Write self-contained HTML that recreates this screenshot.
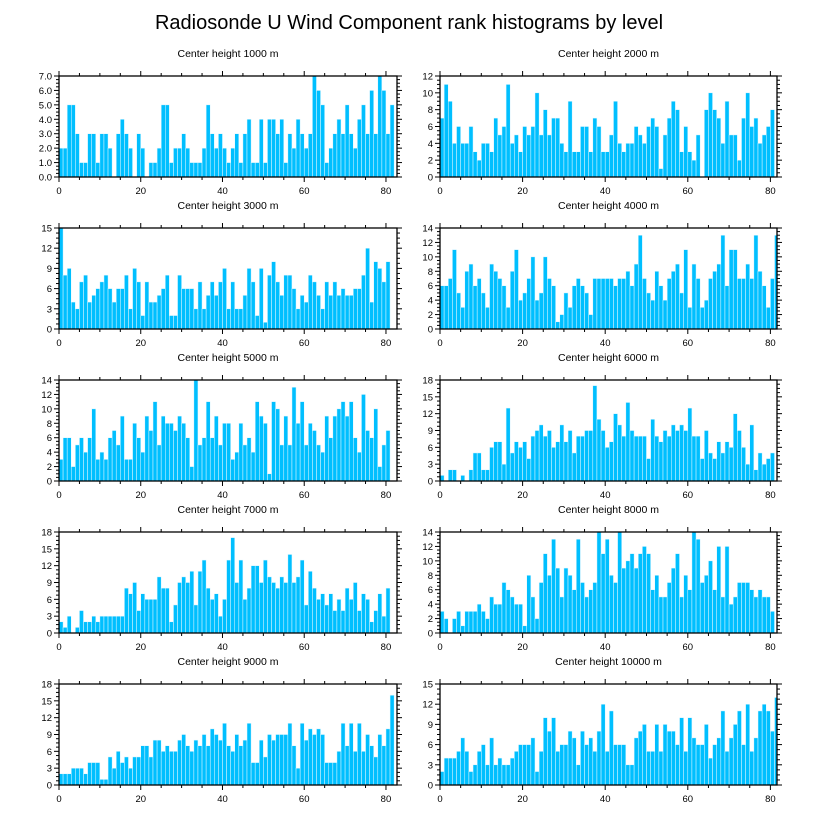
<!DOCTYPE html>
<html><head><meta charset="utf-8"><style>
body{margin:0;background:#fff;}
svg text{font-family:"Liberation Sans",sans-serif;fill:#000;}
</style></head><body>
<svg id="chart" width="818" height="824" xmlns="http://www.w3.org/2000/svg">
<text x="409" y="29" font-size="20" text-anchor="middle">Radiosonde U Wind Component rank histograms by level</text>
</svg>
<script>
const titles = ["Center height 1000 m","Center height 2000 m","Center height 3000 m","Center height 4000 m","Center height 5000 m","Center height 6000 m","Center height 7000 m","Center height 8000 m","Center height 9000 m","Center height 10000 m"];
const yMaxes = [7,12,15,14,14,18,18,14,18,15];
const yStepVals = [1,2,3,2,2,3,3,2,3,3];
const xTickLabels = [0,20,40,60,80];
const counts1000 = [2,2,5,5,3,1,1,3,3,1,3,3,2,0,3,4,3,2,0,3,2,0,1,1,2,5,5,1,2,2,3,2,1,1,1,2,5,3,2,3,2,1,2,3,1,3,4,1,1,4,1,4,4,3,4,1,3,2,4,3,2,3,7,6,5,1,2,3,4,3,5,3,2,4,5,3,6,3,7,6,3,5];
const counts2000 = [7,11,9,4,6,4,4,6,3,2,4,4,3,7,5,6,11,4,5,3,6,5,6,10,5,8,5,7,7,4,3,9,3,3,6,6,3,7,6,3,3,5,9,4,3,4,4,6,5,4,6,7,6,1,5,7,9,8,3,6,3,2,5,0,8,10,8,7,4,9,5,5,2,7,10,6,7,4,5,6,8];
const counts3000 = [15,8,9,4,3,7,8,4,5,6,7,8,6,4,6,6,8,3,9,7,2,7,4,4,5,6,8,2,2,8,6,6,6,3,7,3,5,7,5,7,9,3,7,3,3,5,9,7,2,9,1,8,10,7,5,8,8,6,3,5,4,8,7,5,3,7,5,7,5,6,5,5,6,6,8,12,4,10,9,7,10];
const counts4000 = [6,6,7,11,5,3,8,9,6,7,5,3,9,8,7,6,3,8,11,4,5,7,10,4,5,10,7,6,1,2,5,3,6,7,6,5,2,7,7,7,7,7,6,7,7,8,6,9,13,7,5,4,8,6,4,7,8,9,5,11,3,9,7,3,4,7,8,9,13,6,11,11,7,7,9,7,13,8,6,3,7,13,10];
const counts5000 = [3,6,6,2,5,6,4,6,10,3,4,3,6,7,5,9,3,3,8,6,4,9,7,11,5,9,8,8,7,9,8,6,2,14,5,6,11,6,9,5,8,8,3,4,8,5,6,4,11,9,8,1,11,10,5,9,5,13,8,11,5,8,7,5,4,9,6,9,10,11,9,11,6,4,12,7,6,10,2,5,7];
const counts6000 = [1,0,2,2,0,1,0,2,5,5,2,2,6,7,7,3,13,5,7,6,7,4,8,9,10,8,9,6,7,10,7,9,5,8,8,9,9,17,11,9,6,7,12,10,8,14,9,8,8,8,4,11,8,7,9,8,10,9,10,9,13,8,8,4,9,5,4,7,5,7,6,12,9,6,3,10,2,5,3,4,5];
const counts7000 = [2,1,3,0,1,4,2,2,3,2,3,3,3,3,3,3,8,7,9,4,7,6,6,6,10,8,8,2,5,9,10,9,11,5,11,13,8,6,7,3,6,13,17,9,13,6,8,12,12,9,13,10,9,8,10,9,14,9,10,13,5,11,8,6,7,5,7,4,6,4,8,6,9,4,7,6,2,4,7,3,8];
const counts8000 = [3,2,0,2,3,1,3,3,3,4,3,2,5,4,4,7,6,5,4,4,1,8,5,2,7,11,8,13,9,5,9,8,6,13,7,5,6,7,14,11,13,8,7,14,9,10,11,9,11,12,11,6,8,5,5,7,9,11,5,8,6,14,13,7,8,10,6,12,5,12,4,5,7,7,7,6,5,6,5,5,3];
const counts9000 = [2,2,2,3,3,3,2,4,4,4,1,1,5,3,6,4,5,3,5,5,7,7,5,8,8,6,7,6,6,8,9,7,6,8,7,9,7,10,9,8,11,7,6,9,7,8,11,4,4,8,5,9,8,9,9,9,11,7,3,11,8,10,9,10,9,4,4,4,6,11,7,11,6,11,6,9,7,5,9,7,10,16];
const counts10000 = [2,4,4,4,5,7,5,2,3,5,6,3,7,3,4,3,3,4,5,6,6,6,7,2,5,10,8,10,5,6,6,8,7,3,8,6,7,5,8,12,5,11,6,6,6,3,3,7,8,9,5,5,9,5,9,8,8,6,10,5,10,7,6,6,9,4,6,7,11,5,7,9,11,6,12,5,7,11,12,11,8,13,15];
const allCounts = [counts1000,counts2000,counts3000,counts4000,counts5000,counts6000,counts7000,counts8000,counts9000,counts10000];

const NS="http://www.w3.org/2000/svg";
const svg=document.getElementById('chart');
function mk(tag,attrs,parent){const e=document.createElementNS(NS,tag);for(const k in attrs)e.setAttribute(k,attrs[k]);(parent||svg).appendChild(e);return e;}

for(let p=0;p<10;p++){
  const col=p%2,row=Math.floor(p/2);
  const L=col?440:59, W=col?337:338, T=76+row*152, H=101, B=T+H;
  const xmax=col?81.6:82.7;
  const xs=v=>L+v/xmax*W;
  const ys=v=>B-v/yMaxes[p]*H;
  const g=mk('g',{});
  
  
  const t=mk('text',{x:L+W/2,y:T-19,'font-size':10.5,'text-anchor':'middle'},g);
  t.textContent=titles[p];
  
  
  const clip=mk('clipPath',{id:'c'+p},g);mk('rect',{x:L,y:T,width:W,height:H},clip);
  const bg=mk('g',{'clip-path':'url(#c'+p+')'},g);
  allCounts[p].forEach((v,i)=>{
    const r=mk('rect',{x:xs(i),y:ys(v),width:xs(i+1)-xs(i),height:B-ys(v),fill:'#00bfff',stroke:'#e6f8ff','stroke-width':0.5},bg);
    
    
  });
  const fr=mk('rect',{x:L,y:T,width:W,height:H,fill:'none',stroke:'#000','stroke-width':1.3},g);
  
  
  // x ticks
  for(let v=0;v<=xmax;v+=5){
    const maj=v%20===0, len=maj?5:3;
    mk('line',{x1:xs(v),x2:xs(v),y1:B,y2:B+len,stroke:'#000','stroke-width':1},g);
    mk('line',{x1:xs(v),x2:xs(v),y1:T,y2:T-len,stroke:'#000','stroke-width':1},g);
  }
  xTickLabels.forEach(v=>{
    const tl=mk('text',{x:xs(v),y:B+17,'font-size':9.5,'text-anchor':'middle'},g);
    tl.textContent=v;
    
    
  });
  const st=yStepVals[p], minor=st/4;
  for(let k=0;k*minor<=yMaxes[p]+1e-9;k++){
    const v=k*minor, maj=k%4===0, len=maj?5:3;
    mk('line',{x1:L,x2:L-len,y1:ys(v),y2:ys(v),stroke:'#000','stroke-width':1},g);
    mk('line',{x1:L+W,x2:L+W+len,y1:ys(v),y2:ys(v),stroke:'#000','stroke-width':1},g);
    if(maj){
      const yl=mk('text',{x:L-7,y:ys(v)+3.5,'font-size':9.5,'text-anchor':'end'},g);
      yl.textContent=p===0?v.toFixed(1):v;
      
      
    }
  }
}
</script>
</body></html>
